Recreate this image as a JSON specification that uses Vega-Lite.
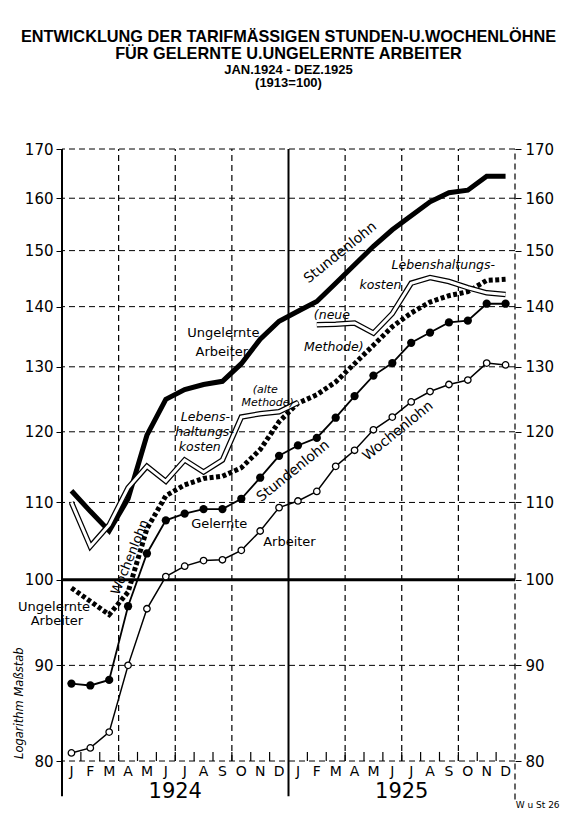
{
  "$schema": "https://vega.github.io/schema/vega-lite/v6.json",
  "width": 453,
  "height": 612,
  "autosize": {"type": "none"},
  "padding": {"left": 62, "top": 149, "right": 57, "bottom": 52},
  "background": "white",
  "config": {
    "view": {"stroke": null},
    "font": "DejaVu Sans",
    "axis": {"labelFont": "DejaVu Sans", "labelColor": "black", "tickColor": "black"},
    "text": {"font": "DejaVu Sans", "color": "black"}
  },
  "title": {
    "text": ["ENTWICKLUNG DER TARIFMÄSSIGEN STUNDEN-U.WOCHENLÖHNE", "FÜR GELERNTE U.UNGELERNTE ARBEITER"],
    "subtitle": ["JAN.1924 - DEZ.1925", "(1913=100)"],
    "font": "Liberation Sans",
    "fontWeight": "bold",
    "fontSize": 16.3,
    "lineHeight": 17.5,
    "color": "black",
    "subtitleFont": "Liberation Sans",
    "subtitleFontWeight": "bold",
    "subtitleFontSize": 13,
    "subtitleLineHeight": 13.5,
    "subtitleColor": "black",
    "subtitlePadding": 1,
    "anchor": "middle",
    "offset": 52
  },
  "datasets": {
    "series": [
      {"t": 0.5, "su": 111.6, "wu": 99.0, "sg": 88.0, "wg": 80.8, "la": 110.0, "ln": null},
      {"t": 1.5, "su": 108.8, "wu": 97.4, "sg": 87.8, "wg": 81.3, "la": 104.2, "ln": null},
      {"t": 2.5, "su": 106.2, "wu": 95.8, "sg": 88.4, "wg": 82.9, "la": 107.0, "ln": null},
      {"t": 3.5, "su": 110.5, "wu": 98.5, "sg": 96.8, "wg": 90.0, "la": 112.0, "ln": null},
      {"t": 4.5, "su": 119.5, "wu": 106.5, "sg": 103.3, "wg": 96.5, "la": 115.0, "ln": null},
      {"t": 5.5, "su": 124.9, "wu": 110.9, "sg": 107.6, "wg": 100.4, "la": 112.9, "ln": null},
      {"t": 6.5, "su": 126.4, "wu": 112.4, "sg": 108.5, "wg": 101.7, "la": 115.9, "ln": null},
      {"t": 7.5, "su": 127.2, "wu": 113.3, "sg": 109.1, "wg": 102.4, "la": 114.2, "ln": null},
      {"t": 8.5, "su": 127.7, "wu": 113.6, "sg": 109.1, "wg": 102.5, "la": 115.9, "ln": null},
      {"t": 9.5, "su": 130.5, "wu": 114.8, "sg": 110.5, "wg": 103.7, "la": 122.2, "ln": null},
      {"t": 10.5, "su": 134.5, "wu": 117.4, "sg": 113.4, "wg": 106.2, "la": 122.7, "ln": null},
      {"t": 11.5, "su": 137.5, "wu": 121.5, "sg": 116.5, "wg": 109.3, "la": 123.0, "ln": null},
      {"t": 12.5, "su": 139.2, "wu": 124.3, "sg": 118.0, "wg": 110.2, "la": 124.4, "ln": null},
      {"t": 13.5, "su": 140.9, "wu": 125.6, "sg": 119.1, "wg": 111.5, "la": null, "ln": 136.9},
      {"t": 14.5, "su": 144.1, "wu": 127.6, "sg": 122.1, "wg": 115.0, "la": null, "ln": 137.0},
      {"t": 15.5, "su": 147.4, "wu": 130.5, "sg": 125.4, "wg": 117.3, "la": null, "ln": 137.2},
      {"t": 16.5, "su": 150.8, "wu": 133.5, "sg": 128.6, "wg": 120.3, "la": null, "ln": 135.5},
      {"t": 17.5, "su": 153.9, "wu": 136.6, "sg": 130.6, "wg": 122.2, "la": null, "ln": 138.8},
      {"t": 18.5, "su": 156.6, "wu": 138.9, "sg": 133.9, "wg": 124.5, "la": null, "ln": 144.1},
      {"t": 19.5, "su": 159.3, "wu": 140.8, "sg": 135.6, "wg": 126.1, "la": null, "ln": 145.1},
      {"t": 20.5, "su": 161.1, "wu": 141.9, "sg": 137.3, "wg": 127.2, "la": null, "ln": 144.4},
      {"t": 21.5, "su": 161.6, "wu": 142.6, "sg": 137.6, "wg": 127.9, "la": null, "ln": 143.3},
      {"t": 22.5, "su": 164.4, "wu": 144.6, "sg": 140.5, "wg": 130.6, "la": null, "ln": 142.4},
      {"t": 23.5, "su": 164.4, "wu": 144.8, "sg": 140.5, "wg": 130.3, "la": null, "ln": 142.1}
    ],
    "hgrid": [
      {"v": 80}, {"v": 90}, {"v": 110}, {"v": 120}, {"v": 130}, {"v": 140}, {"v": 150}, {"v": 160}, {"v": 170}
    ],
    "zero": [{"v": 100}],
    "vsolid": [{"m": 0}, {"m": 12}],
    "vdash": [{"m": 3}, {"m": 6}, {"m": 9}, {"m": 15}, {"m": 18}, {"m": 21}],
    "vedge": [{"m": 24}],
    "mticks": [
      {"m": 1}, {"m": 2}, {"m": 3}, {"m": 4}, {"m": 5}, {"m": 6}, {"m": 7}, {"m": 8}, {"m": 9}, {"m": 10}, {"m": 11},
      {"m": 13}, {"m": 14}, {"m": 15}, {"m": 16}, {"m": 17}, {"m": 18}, {"m": 19}, {"m": 20}, {"m": 21}, {"m": 22}, {"m": 23}
    ],
    "months": [
      {"lbl": "J", "t": 0.5}, {"lbl": "F", "t": 1.5}, {"lbl": "M", "t": 2.5}, {"lbl": "A", "t": 3.5},
      {"lbl": "M", "t": 4.5}, {"lbl": "J", "t": 5.5}, {"lbl": "J", "t": 6.5}, {"lbl": "A", "t": 7.5},
      {"lbl": "S", "t": 8.5}, {"lbl": "O", "t": 9.5}, {"lbl": "N", "t": 10.5}, {"lbl": "D", "t": 11.5},
      {"lbl": "J", "t": 12.5}, {"lbl": "F", "t": 13.5}, {"lbl": "M", "t": 14.5}, {"lbl": "A", "t": 15.5},
      {"lbl": "M", "t": 16.5}, {"lbl": "J", "t": 17.5}, {"lbl": "J", "t": 18.5}, {"lbl": "A", "t": 19.5},
      {"lbl": "S", "t": 20.5}, {"lbl": "O", "t": 21.5}, {"lbl": "N", "t": 22.5}, {"lbl": "D", "t": 23.5}
    ],
    "years": [{"year": "1924", "m": 6}, {"year": "1925", "m": 18}],
    "plain": [
      {"txt": "Ungelernte", "t": 8.55, "v": 135.5},
      {"txt": "Arbeiter", "t": 8.47, "v": 132.4},
      {"txt": "Gelernte", "t": 8.33, "v": 107.1},
      {"txt": "Arbeiter", "t": 12.05, "v": 104.8},
      {"txt": "Ungelernte", "t": -0.42, "v": 96.7},
      {"txt": "Arbeiter", "t": -0.27, "v": 95.0}
    ],
    "italic": [
      {"txt": "Lebens-", "t": 7.6, "v": 122.2},
      {"txt": "haltungs-", "t": 7.55, "v": 120.0},
      {"txt": "kosten", "t": 7.3, "v": 117.8},
      {"txt": "Lebenshaltungs-", "t": 20.2, "v": 147.4},
      {"txt": "kosten", "t": 16.87, "v": 143.8},
      {"txt": "(neue", "t": 14.3, "v": 138.5},
      {"txt": "Methode)", "t": 14.4, "v": 133.2}
    ],
    "italicsmall": [
      {"txt": "(alte", "t": 10.77, "v": 126.4},
      {"txt": "Methode)", "t": 10.9, "v": 124.4}
    ],
    "slanted": [
      {"txt": "Stundenlohn", "t": 14.75, "v": 149.6},
      {"txt": "Stundenlohn", "t": 12.25, "v": 114.3},
      {"txt": "Wochenlohn", "t": 17.8, "v": 120.1}
    ],
    "steep": [{"txt": "Wochenlohn", "t": 3.6, "v": 102.8}],
    "vertical": [{"txt": "Logarithm Maßstab", "t": -2.2, "v": 85.9}],
    "credit": [{"txt": "W u St 26", "t": 25.2, "v": 75.8}]
  },
  "layer": [
    {
      "data": {"name": "hgrid"},
      "mark": {"type": "rule", "stroke": "black", "strokeWidth": 1, "strokeDash": [6, 4]},
      "encoding": {
        "y": {
          "field": "v", "type": "quantitative",
          "scale": {"type": "log", "domain": [80, 170], "nice": false, "zero": false},
          "axis": {
            "orient": "left", "values": [80, 90, 100, 110, 120, 130, 140, 150, 160, 170],
            "labelExpr": "format(datum.value, 'd')", "title": null, "grid": false, "domain": false,
            "tickSize": 6, "labelPadding": 3, "labelFontSize": 15, "labelOverlap": false
          }
        }
      }
    },
    {
      "data": {"name": "zero"},
      "mark": {"type": "rule", "stroke": "black", "strokeWidth": 3},
      "encoding": {
        "y": {
          "field": "v", "type": "quantitative",
          "scale": {"type": "log", "domain": [80, 170], "nice": false, "zero": false},
          "axis": {
            "orient": "right", "values": [80, 90, 100, 110, 120, 130, 140, 150, 160, 170],
            "labelExpr": "format(datum.value, 'd')", "title": null, "grid": false, "domain": false,
            "tickSize": 6, "labelPadding": 4, "labelFontSize": 15, "labelOverlap": false
          }
        }
      }
    },
    {
      "data": {"name": "vdash"},
      "mark": {"type": "rule", "stroke": "black", "strokeWidth": 1.2, "strokeDash": [6, 4]},
      "encoding": {
        "x": {"field": "m", "type": "quantitative", "scale": {"domain": [0, 24], "nice": false, "zero": false}, "axis": null},
        "y": {"datum": 80, "scale": {"type": "log", "domain": [80, 170], "nice": false, "zero": false}, "axis": null},
        "y2": {"datum": 170}
      }
    },
    {
      "data": {"name": "vedge"},
      "mark": {"type": "rule", "stroke": "black", "strokeWidth": 1.2, "strokeDash": [6, 4]},
      "encoding": {
        "x": {"field": "m", "type": "quantitative", "scale": {"domain": [0, 24], "nice": false, "zero": false}, "axis": null},
        "y": {"datum": 76.3, "scale": {"type": "log", "domain": [80, 170], "nice": false, "zero": false}, "axis": null},
        "y2": {"datum": 170}
      }
    },
    {
      "data": {"name": "vsolid"},
      "mark": {"type": "rule", "stroke": "black", "strokeWidth": 2},
      "encoding": {
        "x": {"field": "m", "type": "quantitative", "scale": {"domain": [0, 24], "nice": false, "zero": false}, "axis": null},
        "y": {"datum": 76.6, "scale": {"type": "log", "domain": [80, 170], "nice": false, "zero": false}, "axis": null},
        "y2": {"datum": 170}
      }
    },
    {
      "data": {"name": "mticks"},
      "mark": {"type": "rule", "stroke": "black", "strokeWidth": 1.2},
      "encoding": {
        "x": {"field": "m", "type": "quantitative", "scale": {"domain": [0, 24], "nice": false, "zero": false}, "axis": null},
        "y": {"datum": 80, "scale": {"type": "log", "domain": [80, 170], "nice": false, "zero": false}, "axis": null},
        "y2": {"datum": 80.9}
      }
    },
    {
      "data": {"name": "series"},
      "mark": {"type": "line", "stroke": "black", "strokeWidth": 1.5},
      "encoding": {
        "x": {"field": "t", "type": "quantitative", "scale": {"domain": [0, 24], "nice": false, "zero": false}, "axis": null},
        "y": {"field": "wg", "type": "quantitative", "scale": {"type": "log", "domain": [80, 170], "nice": false, "zero": false}, "axis": null}
      }
    },
    {
      "data": {"name": "series"},
      "mark": {"type": "circle", "fill": "white", "stroke": "black", "strokeWidth": 1.3, "size": 42, "opacity": 1},
      "encoding": {
        "x": {"field": "t", "type": "quantitative", "scale": {"domain": [0, 24], "nice": false, "zero": false}, "axis": null},
        "y": {"field": "wg", "type": "quantitative", "scale": {"type": "log", "domain": [80, 170], "nice": false, "zero": false}, "axis": null}
      }
    },
    {
      "data": {"name": "series"},
      "mark": {"type": "line", "stroke": "black", "strokeWidth": 1.8},
      "encoding": {
        "x": {"field": "t", "type": "quantitative", "scale": {"domain": [0, 24], "nice": false, "zero": false}, "axis": null},
        "y": {"field": "sg", "type": "quantitative", "scale": {"type": "log", "domain": [80, 170], "nice": false, "zero": false}, "axis": null}
      }
    },
    {
      "data": {"name": "series"},
      "mark": {"type": "circle", "fill": "black", "size": 68, "opacity": 1},
      "encoding": {
        "x": {"field": "t", "type": "quantitative", "scale": {"domain": [0, 24], "nice": false, "zero": false}, "axis": null},
        "y": {"field": "sg", "type": "quantitative", "scale": {"type": "log", "domain": [80, 170], "nice": false, "zero": false}, "axis": null}
      }
    },
    {
      "data": {"name": "series"},
      "mark": {"type": "line", "stroke": "black", "strokeWidth": 5, "strokeDash": [4, 2.5]},
      "encoding": {
        "x": {"field": "t", "type": "quantitative", "scale": {"domain": [0, 24], "nice": false, "zero": false}, "axis": null},
        "y": {"field": "wu", "type": "quantitative", "scale": {"type": "log", "domain": [80, 170], "nice": false, "zero": false}, "axis": null}
      }
    },
    {
      "data": {"name": "series"},
      "mark": {"type": "line", "stroke": "black", "strokeWidth": 5, "strokeCap": "butt"},
      "encoding": {
        "x": {"field": "t", "type": "quantitative", "scale": {"domain": [0, 24], "nice": false, "zero": false}, "axis": null},
        "y": {"field": "su", "type": "quantitative", "scale": {"type": "log", "domain": [80, 170], "nice": false, "zero": false}, "axis": null}
      }
    },
    {
      "data": {"name": "series"},
      "transform": [{"filter": "isValid(datum.la)"}],
      "mark": {"type": "line", "stroke": "black", "strokeWidth": 5.5},
      "encoding": {
        "x": {"field": "t", "type": "quantitative", "scale": {"domain": [0, 24], "nice": false, "zero": false}, "axis": null},
        "y": {"field": "la", "type": "quantitative", "scale": {"type": "log", "domain": [80, 170], "nice": false, "zero": false}, "axis": null}
      }
    },
    {
      "data": {"name": "series"},
      "transform": [{"filter": "isValid(datum.la)"}],
      "mark": {"type": "line", "stroke": "white", "strokeWidth": 3},
      "encoding": {
        "x": {"field": "t", "type": "quantitative", "scale": {"domain": [0, 24], "nice": false, "zero": false}, "axis": null},
        "y": {"field": "la", "type": "quantitative", "scale": {"type": "log", "domain": [80, 170], "nice": false, "zero": false}, "axis": null}
      }
    },
    {
      "data": {"name": "series"},
      "transform": [{"filter": "isValid(datum.ln)"}],
      "mark": {"type": "line", "stroke": "black", "strokeWidth": 5.5},
      "encoding": {
        "x": {"field": "t", "type": "quantitative", "scale": {"domain": [0, 24], "nice": false, "zero": false}, "axis": null},
        "y": {"field": "ln", "type": "quantitative", "scale": {"type": "log", "domain": [80, 170], "nice": false, "zero": false}, "axis": null}
      }
    },
    {
      "data": {"name": "series"},
      "transform": [{"filter": "isValid(datum.ln)"}],
      "mark": {"type": "line", "stroke": "white", "strokeWidth": 3},
      "encoding": {
        "x": {"field": "t", "type": "quantitative", "scale": {"domain": [0, 24], "nice": false, "zero": false}, "axis": null},
        "y": {"field": "ln", "type": "quantitative", "scale": {"type": "log", "domain": [80, 170], "nice": false, "zero": false}, "axis": null}
      }
    },
    {
      "data": {"name": "plain"},
      "mark": {"type": "text", "fontSize": 13, "align": "center", "baseline": "middle"},
      "encoding": {
        "x": {"field": "t", "type": "quantitative", "scale": {"domain": [0, 24], "nice": false, "zero": false}, "axis": null},
        "y": {"field": "v", "type": "quantitative", "scale": {"type": "log", "domain": [80, 170], "nice": false, "zero": false}, "axis": null},
        "text": {"field": "txt"}
      }
    },
    {
      "data": {"name": "italic"},
      "mark": {"type": "text", "fontSize": 12.5, "fontStyle": "italic", "align": "center", "baseline": "middle"},
      "encoding": {
        "x": {"field": "t", "type": "quantitative", "scale": {"domain": [0, 24], "nice": false, "zero": false}, "axis": null},
        "y": {"field": "v", "type": "quantitative", "scale": {"type": "log", "domain": [80, 170], "nice": false, "zero": false}, "axis": null},
        "text": {"field": "txt"}
      }
    },
    {
      "data": {"name": "italicsmall"},
      "mark": {"type": "text", "fontSize": 11, "fontStyle": "italic", "align": "center", "baseline": "middle"},
      "encoding": {
        "x": {"field": "t", "type": "quantitative", "scale": {"domain": [0, 24], "nice": false, "zero": false}, "axis": null},
        "y": {"field": "v", "type": "quantitative", "scale": {"type": "log", "domain": [80, 170], "nice": false, "zero": false}, "axis": null},
        "text": {"field": "txt"}
      }
    },
    {
      "data": {"name": "slanted"},
      "mark": {"type": "text", "fontSize": 14, "angle": -39, "align": "center", "baseline": "middle"},
      "encoding": {
        "x": {"field": "t", "type": "quantitative", "scale": {"domain": [0, 24], "nice": false, "zero": false}, "axis": null},
        "y": {"field": "v", "type": "quantitative", "scale": {"type": "log", "domain": [80, 170], "nice": false, "zero": false}, "axis": null},
        "text": {"field": "txt"}
      }
    },
    {
      "data": {"name": "steep"},
      "mark": {"type": "text", "fontSize": 13, "angle": -68, "align": "center", "baseline": "middle"},
      "encoding": {
        "x": {"field": "t", "type": "quantitative", "scale": {"domain": [0, 24], "nice": false, "zero": false}, "axis": null},
        "y": {"field": "v", "type": "quantitative", "scale": {"type": "log", "domain": [80, 170], "nice": false, "zero": false}, "axis": null},
        "text": {"field": "txt"}
      }
    },
    {
      "data": {"name": "vertical"},
      "mark": {"type": "text", "fontSize": 11.5, "fontStyle": "italic", "angle": -90, "align": "center", "baseline": "middle"},
      "encoding": {
        "x": {"field": "t", "type": "quantitative", "scale": {"domain": [0, 24], "nice": false, "zero": false}, "axis": null},
        "y": {"field": "v", "type": "quantitative", "scale": {"type": "log", "domain": [80, 170], "nice": false, "zero": false}, "axis": null},
        "text": {"field": "txt"}
      }
    },
    {
      "data": {"name": "months"},
      "mark": {"type": "text", "fontSize": 14, "align": "center", "baseline": "middle"},
      "encoding": {
        "x": {"field": "t", "type": "quantitative", "scale": {"domain": [0, 24], "nice": false, "zero": false}, "axis": null},
        "y": {"datum": 78.93, "scale": {"type": "log", "domain": [80, 170], "nice": false, "zero": false}, "axis": null},
        "text": {"field": "lbl"}
      }
    },
    {
      "data": {"name": "years"},
      "mark": {"type": "text", "fontSize": 21, "align": "center", "baseline": "middle"},
      "encoding": {
        "x": {"field": "m", "type": "quantitative", "scale": {"domain": [0, 24], "nice": false, "zero": false}, "axis": null},
        "y": {"datum": 77.0, "scale": {"type": "log", "domain": [80, 170], "nice": false, "zero": false}, "axis": null},
        "text": {"field": "year"}
      }
    },
    {
      "data": {"name": "credit"},
      "mark": {"type": "text", "fontSize": 9, "align": "center", "baseline": "middle"},
      "encoding": {
        "x": {"field": "t", "type": "quantitative", "scale": {"domain": [0, 24], "nice": false, "zero": false}, "axis": null},
        "y": {"field": "v", "type": "quantitative", "scale": {"type": "log", "domain": [80, 170], "nice": false, "zero": false}, "axis": null},
        "text": {"field": "txt"}
      }
    }
  ],
  "resolve": {"axis": {"y": "independent"}}
}
